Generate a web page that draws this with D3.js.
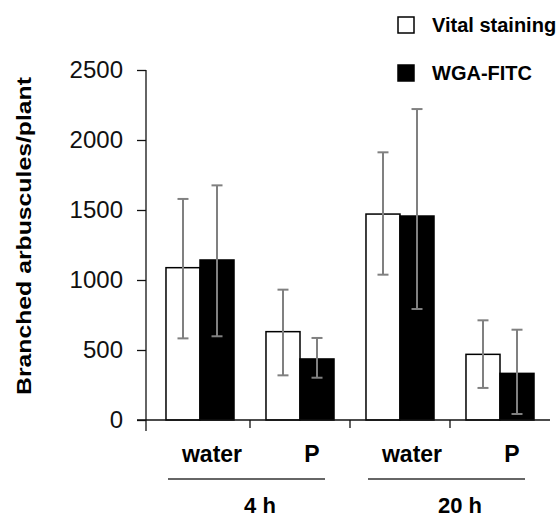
<!DOCTYPE html>
<html>
<head>
<meta charset="utf-8">
<title>Branched arbuscules</title>
<script src="https://d3js.org/d3.v7.min.js"></script>
<style>
  body { margin: 0; background: #fff; }
  text { font-family: "Liberation Sans", Arial, sans-serif; }
</style>
</head>
<body>
<svg width="556" height="518"></svg>
<script>

// data
var categories = ["4 h water", "4 h P", "20 h water", "20 h P"];
var catLabels = ["water", "P", "water", "P"];
var groups = ["4 h", "20 h"];
var series = ["Vital staining", "WGA-FITC"];
var vitalMean = [1088, 631, 1471, 469];
var vitalLow  = [583, 319, 1038, 229];
var vitalHigh = [1579, 931, 1912, 712];
var wgaMean = [1143, 436, 1457, 333];
var wgaLow  = [598, 302, 793, 43];
var wgaHigh = [1676, 586, 2221, 645];
var yTicks = [0, 500, 1000, 1500, 2000, 2500];

var svg = d3.select("svg");

var x = d3.scaleBand().domain(categories).range([150, 550]);
var xs = d3.scaleBand().domain(series).range([0, x.bandwidth()])
    .paddingInner(0).paddingOuter(0.47);
var y = d3.scaleLinear().domain([0, 2500]).range([420, 70]);

var rows = [];
categories.forEach(function(c, i) {
  rows.push({cat: c, s: series[0], v: vitalMean[i], lo: vitalLow[i], hi: vitalHigh[i]});
  rows.push({cat: c, s: series[1], v: wgaMean[i], lo: wgaLow[i], hi: wgaHigh[i]});
});

// y axis
var yAxis = svg.append("g").attr("transform", "translate(146,0)")
    .call(d3.axisLeft(y).tickValues(yTicks).tickSize(9).tickPadding(14).tickFormat(d3.format("d")));
yAxis.select(".domain").remove();
yAxis.selectAll(".tick line").attr("stroke", "#111").attr("stroke-width", 1.3);
yAxis.selectAll(".tick text").attr("font-size", 24).attr("fill", "#111")
    .style("font-family", "Liberation Sans, Arial, sans-serif");
svg.append("line").attr("x1", 146).attr("x2", 146).attr("y1", y(2500)).attr("y2", 431)
    .attr("stroke", "#111").attr("stroke-width", 1.3);

// bars
svg.selectAll("rect.bar").data(rows).enter().append("rect")
    .attr("class", "bar")
    .attr("x", function(d) { return x(d.cat) + xs(d.s); })
    .attr("y", function(d) { return y(d.v); })
    .attr("width", xs.bandwidth())
    .attr("height", function(d) { return y(0) - y(d.v); })
    .attr("fill", function(d) { return d.s === series[0] ? "#fff" : "#000"; })
    .attr("stroke", "#000").attr("stroke-width", 1.5);

// x axis baseline and category ticks
svg.append("line").attr("x1", 137).attr("x2", 550).attr("y1", y(0)).attr("y2", y(0))
    .attr("stroke", "#111").attr("stroke-width", 1.3);
svg.selectAll("line.ctick").data(categories.slice(1)).enter().append("line")
    .attr("class", "ctick")
    .attr("x1", function(d) { return x(d); }).attr("x2", function(d) { return x(d); })
    .attr("y1", y(0)).attr("y2", y(0) + 8)
    .attr("stroke", "#111").attr("stroke-width", 1.3);

// error bars
var err = svg.selectAll("g.err").data(rows).enter().append("g").attr("class", "err")
    .attr("stroke", "#808080").attr("stroke-width", 2);
var cx = function(d) { return x(d.cat) + xs(d.s) + xs.bandwidth() / 2; };
err.append("line")
    .attr("x1", cx).attr("x2", cx)
    .attr("y1", function(d) { return y(d.lo); }).attr("y2", function(d) { return y(d.hi); });
err.append("line")
    .attr("x1", function(d) { return cx(d) - 5.5; }).attr("x2", function(d) { return cx(d) + 5.5; })
    .attr("y1", function(d) { return y(d.hi); }).attr("y2", function(d) { return y(d.hi); });
err.append("line")
    .attr("x1", function(d) { return cx(d) - 5.5; }).attr("x2", function(d) { return cx(d) + 5.5; })
    .attr("y1", function(d) { return y(d.lo); }).attr("y2", function(d) { return y(d.lo); });

// category labels
svg.selectAll("text.cat").data(categories).enter().append("text")
    .attr("class", "cat")
    .attr("x", function(d) { return x(d) + x.bandwidth() / 2 + 12; })
    .attr("y", 462)
    .attr("text-anchor", "middle").attr("font-size", 23).attr("font-weight", "bold")
    .text(function(d, i) { return catLabels[i]; });

// group lines and labels
groups.forEach(function(g, i) {
  var a = x(categories[i * 2]), b = x(categories[i * 2 + 1]) + x.bandwidth();
  svg.append("line").attr("x1", a + 18).attr("x2", b - 25).attr("y1", 479).attr("y2", 479)
      .attr("stroke", "#333").attr("stroke-width", 1.5);
  svg.append("text").attr("x", (a + b) / 2 + 10).attr("y", 513)
      .attr("text-anchor", "middle").attr("font-size", 22).attr("font-weight", "bold")
      .text(g);
});

// y title
svg.append("text")
    .attr("transform", "translate(31,236) rotate(-90)")
    .attr("text-anchor", "middle").attr("font-size", 21).attr("font-weight", "bold")
    .attr("textLength", 318).attr("lengthAdjust", "spacingAndGlyphs")
    .text("Branched arbuscules/plant");

// legend
var leg = svg.selectAll("g.leg").data(series).enter().append("g").attr("class", "leg")
    .attr("transform", function(d, i) { return "translate(398," + (17 + i * 48) + ")"; });
leg.append("rect").attr("width", 16).attr("height", 16)
    .attr("fill", function(d, i) { return i === 0 ? "#fff" : "#000"; })
    .attr("stroke", "#000").attr("stroke-width", 1.5);
leg.append("text").attr("x", 34).attr("y", 15)
    .attr("font-size", 20).attr("font-weight", "bold")
    .text(function(d) { return d; });

</script>
</body>
</html>
